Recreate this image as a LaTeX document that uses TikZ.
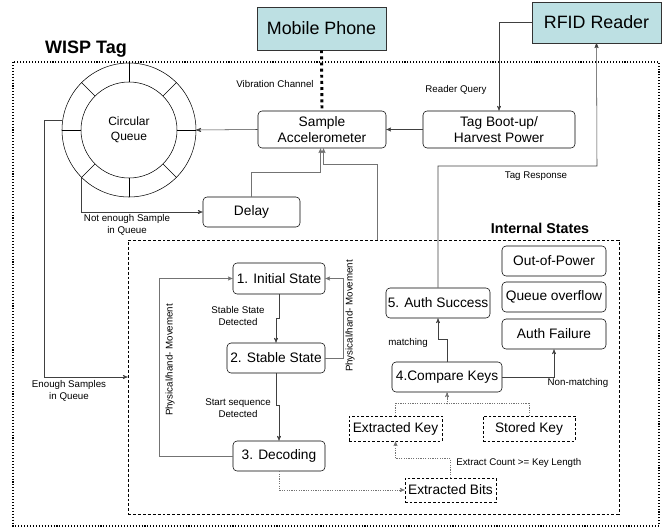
\documentclass[tikz,border=0pt]{standalone}
\usepackage{fontspec}
\setmainfont{Liberation Sans}
\usetikzlibrary{arrows,positioning,calc}
\definecolor{devfill}{HTML}{BDE0E3}

\begin{document}
\begin{tikzpicture}[x=0.75pt,y=-0.75pt,>=stealth',
		state/.style={rectangle,rounded corners=3pt,draw=black,inner sep=1pt,minimum height=22.5pt,font=\fontsize{10.3}{12.4}\selectfont,align=center},
		device/.style={rectangle,draw=black!80,fill=devfill,minimum width=96.75pt,font=\fontsize{13.4}{16}\selectfont},
		keybox/.style={rectangle,draw=black,dash pattern=on 2pt off 1.5pt,inner sep=1pt,font=\fontsize{10.3}{12.4}\selectfont},
		lbl/.style={font=\fontsize{7.3}{9}\selectfont,align=center,inner sep=0pt},
		title/.style={font=\bfseries\fontsize{10.7}{13}\selectfont,inner sep=0pt},
		conn/.style={->,draw=black!75},
		soft/.style={->,draw=black!55},
		faint/.style={draw=black!55,dash pattern=on 0.9pt off 0.9pt}]
		\useasboundingbox (0,0) rectangle (666,527);
		
		% outer tag and internal states frames
		\draw[line width=0.9pt,dash pattern=on 0.8pt off 1.4pt] (13,62) rectangle (659,526);
		\node[title,font=\bfseries\fontsize{13.5}{16}\selectfont] (wisp)     at (86,49)       {WISP Tag};
		\node[draw,dash pattern=on 2.2pt off 1.5pt,minimum width=368.25pt,minimum height=205.5pt,inner sep=0pt]
		                              (internal) at (373.5,377)   {};
		\node[title]                  (intitle)  at (540,228)     {Internal States};
		
		% devices
		\node[device,minimum height=32.25pt]  (phone) at (321.5,28.5) {Mobile Phone};
		\node[device,minimum height=30.75pt]  (rfid)  at (596.5,22.5) {RFID Reader};
		
		% circular queue
		\node[circle,draw,minimum size=100.5pt,inner sep=0pt] (queue) at (129,130) {};
		\node[circle,draw,minimum size=72pt,inner sep=0pt,align=center,font=\fontsize{9}{11}\selectfont]
		                                                      (qin)   at (129,130) {Circular\\Queue};
		\foreach \a in {0,45,...,315}
			\draw (queue.\a) -- (qin.\a);
		
		% processing boxes
		\node[state,minimum width=96pt,minimum height=27.75pt]  (acc)   at (322,129.5) {Sample\\Accelerometer};
		\node[state,minimum width=114pt,minimum height=27.75pt] (boot)  at (499,129.5) {Tag Boot-up/\\Harvest Power};
		\node[state,minimum width=72.75pt]                      (delay) at (251.5,212) {Delay};
		
		% internal states
		\node[state,minimum width=69pt,minimum height=23.25pt] (init)   at (279,278.5) {1. Initial State};
		\node[state,minimum width=73.5pt]                      (stable) at (276,358)   {2. Stable State};
		\node[state,minimum width=69pt]                        (dec)    at (279,456)   {3. Decoding};
		\node[state,minimum width=82.5pt]                      (cmp)    at (447,377)   {4.Compare Keys};
		\node[state,minimum width=78pt]                        (succ)   at (438,303)   {5. Auth Success};
		\node[state,minimum width=78pt]                        (power)  at (554,261)   {Out-of-Power};
		\node[state,minimum width=78pt]                        (qover)  at (554,297)   {Queue overflow};
		\node[state,minimum width=78pt]                        (fail)   at (554,334)   {Auth Failure};
		
		\node[keybox,minimum width=69.75pt,minimum height=18.75pt] (extkey) at (395.5,428.5) {Extracted Key};
		\node[keybox,minimum width=69pt,minimum height=18.75pt]    (stored) at (529,428.5)   {Stored Key};
		\node[keybox,minimum width=68.25pt,minimum height=18pt]    (bits)   at (450.5,490)   {Extracted Bits};
		
		% bend points
		\coordinate (resp)  at (597,166);
		\coordinate (dlbend) at (320.5,172);
		\coordinate (inbend) at (323.5,164);
		\coordinate (inup)  at (377,0);
		\coordinate (enough) at (44,0);
		
		% connectors outside the internal states
		\draw[line width=2.2pt,dash pattern=on 2.2pt off 2.4pt] (phone.south) -- (acc.north);
		\draw[conn] (rfid.west) -| (boot.north);
		\draw[conn] (boot.west) -- (acc.east);
		\draw[conn] (acc.west) -- (queue.east);
		\draw[conn] (succ.north) |- (resp) -- (rfid.south);
		\draw[soft] (delay.north) |- (dlbend) -- (dlbend |- acc.south);
		\draw[soft] (inup |- internal.north) |- (inbend) -- (inbend |- acc.south);
		\draw[conn] (queue.225) |- (delay.west);
		\draw[conn] (queue.172) -| (enough |- internal.west) -- (internal.west);
		
		% state transitions
		\draw[conn] (init.south) -- ++(0,24) -| (stable.north);
		\draw[conn] (stable.south) -- ++(0,32) -| (dec.north);
		\draw[soft] (stable.east) -- ++(18,0) |- (init.east);
		\draw[soft] (dec.west) -- ++(-73,0) |- (init.west);
		\draw[faint,->] (dec.south) |- (bits.west);
		\draw[faint,->] (bits.north) -- ++(0,-19) -| (extkey.south);
		\draw[faint,->] (extkey.north) -- ++(0,-12) -| (cmp.south);
		\draw[faint] (stored.north) -- ++(0,-12) -| (cmp.south);
		\draw[conn] (cmp.north) -- ++(0,-22) -| (succ.south);
		\draw[conn] (cmp.east) -| (fail.south);
		
		% labels
		\node[lbl] (lvib)   at (275,84)  {Vibration Channel};
		\node[lbl] (lquery) at (456,90)  {Reader Query};
		\node[lbl] (lresp)  at (536,176) {Tag Response};
		\node[lbl] (lnot)   at (127,225) {Not enough Sample\\in Queue};
		\node[lbl] (lenough) at (69,391) {Enough Samples\\in Queue};
		\node[lbl] (lstable) at (238,316) {Stable State\\Detected};
		\node[lbl] (lstart) at (238,408) {Start sequence\\Detected};
		\node[lbl,rotate=90] (lmoveA) at (350,316) {Physical/hand- Movement};
		\node[lbl,rotate=90] (lmoveB) at (170,360) {Physical/hand- Movement};
		\node[lbl,anchor=west] (lcount) at (456,463) {Extract Count >= Key Length};
		\node[lbl] (lmatch) at (408,343) {matching};
		\node[lbl] (lnonm)  at (578,383) {Non-matching};
\end{tikzpicture}
\end{document}
